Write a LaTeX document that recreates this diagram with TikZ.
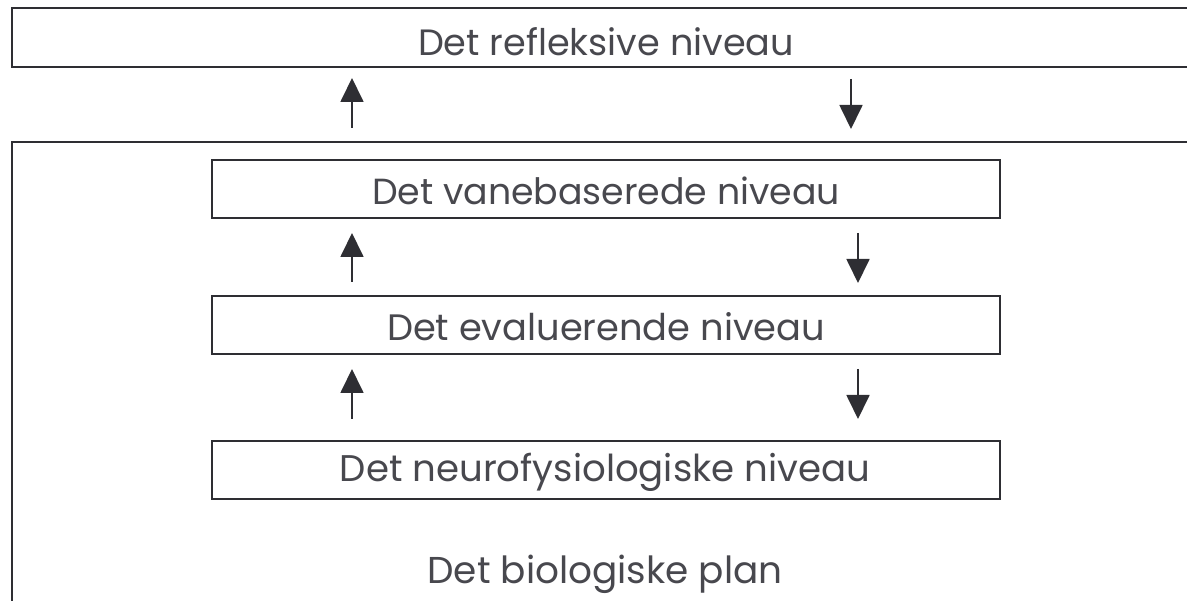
\documentclass[tikz,border=0pt]{standalone}
\usepackage{fontspec}
\usepackage{graphicx}
\usetikzlibrary{arrows.meta}
\newfontfamily\geofont{Poppins}
\definecolor{ink}{HTML}{2E2E33}
\definecolor{txt}{HTML}{48484E}
\tikzset{
  frame/.style={draw=ink, line width=1.4pt},
  lvlbox/.style={draw=ink, line width=1.4pt, minimum width=788pt, minimum height=58pt, inner sep=0pt},
  geotext/.style={text=txt, font=\geofont\fontsize{29}{34}\selectfont},
  flow/.style={draw=ink, line width=1.8pt, -{Triangle[width=23pt,length=24pt]}}
}
\begin{document}
\begin{tikzpicture}[x=1pt,y=-1pt]
\useasboundingbox (0,0) rectangle (1187,601);
\clip (0,0) rectangle (1187,601);
% outer frames (running off the right and bottom edges)
\draw[frame] (1200,8) -- (12,8) -- (12,67) -- (1200,67);
\draw[frame] (1200,142) -- (12,142) -- (12,620);
\node[geotext] (refl) at (606,42) {\resizebox{376pt}{!}{Det refleksive niveau}};
% inner level boxes
\node[lvlbox] (vane) at (606,189) {};
\node[geotext] (vanet) at (606,191) {\resizebox{468pt}{!}{Det vanebaserede niveau}};
\node[lvlbox] (eval) at (606,325) {};
\node[geotext] (evalt) at (606,327) {\resizebox{438pt}{!}{Det evaluerende niveau}};
\node[lvlbox] (neuro) at (606,470) {};
\node[geotext] (neurot) at (605,472) {\resizebox{530pt}{!}{Det neurofysiologiske niveau}};
\node[geotext] (bio) at (605,574) {\resizebox{355pt}{!}{Det biologiske plan}};
% arrow anchor points
\coordinate (a1s) at (352,128); \coordinate (a1e) at (352,78);
\coordinate (b1s) at (851,79);  \coordinate (b1e) at (851,129);
\coordinate (a2s) at (352,282); \coordinate (a2e) at (352,233);
\coordinate (b2s) at (858,233); \coordinate (b2e) at (858,283);
\coordinate (a3s) at (352,419); \coordinate (a3e) at (352,369);
\coordinate (b3s) at (858,369); \coordinate (b3e) at (858,419);
\draw[flow] (a1s) -- (a1e);
\draw[flow] (b1s) -- (b1e);
\draw[flow] (a2s) -- (a2e);
\draw[flow] (b2s) -- (b2e);
\draw[flow] (a3s) -- (a3e);
\draw[flow] (b3s) -- (b3e);
\end{tikzpicture}
\end{document}
